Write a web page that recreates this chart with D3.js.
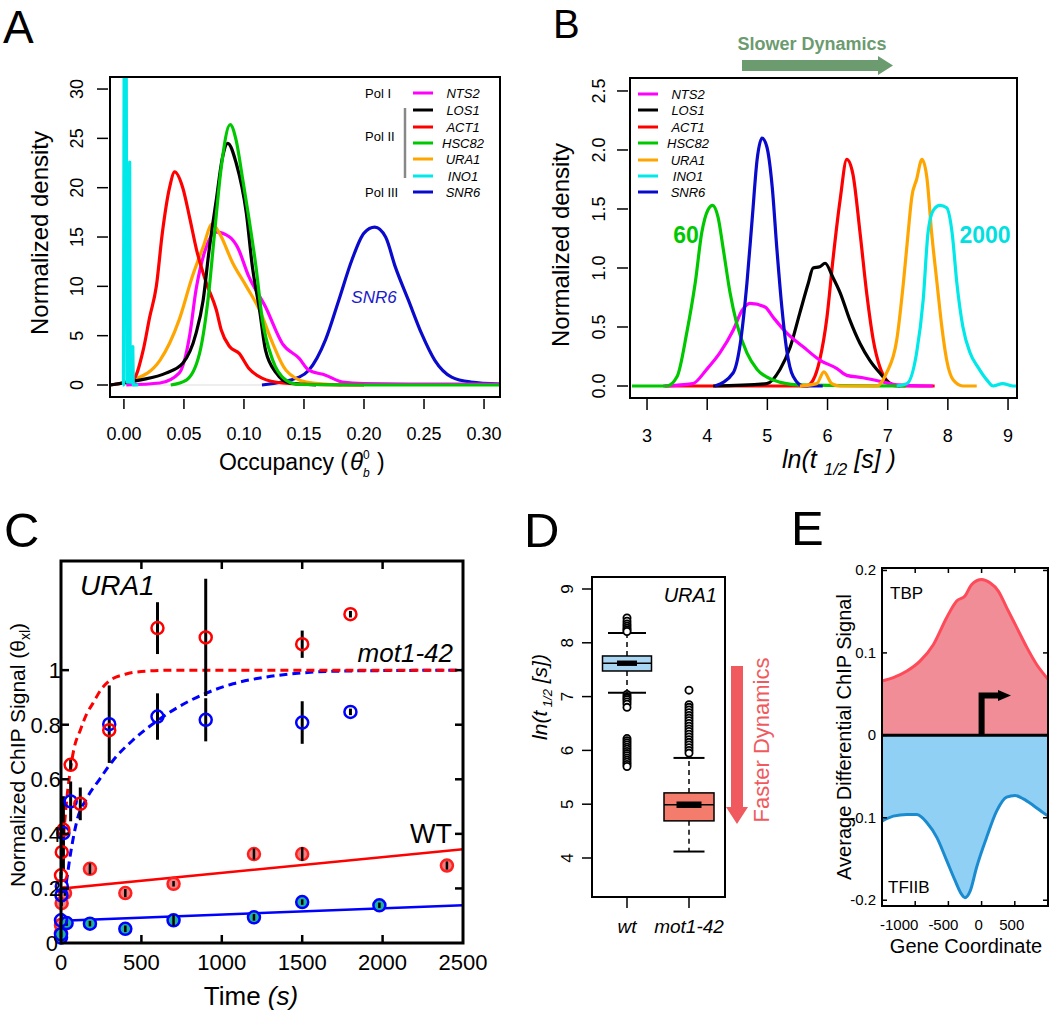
<!DOCTYPE html>
<html><head><meta charset="utf-8">
<script src="https://cdn.jsdelivr.net/npm/d3@7"></script>
<style>
body{margin:0;background:#fff}
svg{display:block}
text{font-family:"Liberation Sans",Arial,Helvetica,sans-serif}
</style>
</head><body>
<script>
// ---------------- DATA ----------------
// Panel A: density of occupancy (x = occupancy, y = normalized density)
const geneNames = ["NTS2","LOS1","ACT1","HSC82","URA1","INO1","SNR6"];
const geneColors = ["#ff00ff","#000000","#ff0000","#00c800","#ffa500","#00e8e8","#0a0acc"];
const occNTS2 = [[0.002,0],[0.03,0.2],[0.046,1.2],[0.055,5.2],[0.06,9.6],[0.067,13.4],[0.077,15.5],[0.088,15],[0.0945,14],[0.104,11],[0.118,7.9],[0.132,4.2],[0.146,2.7],[0.154,1.5],[0.168,1.0],[0.182,0.3],[0.2,0.15],[0.25,0.1],[0.313,0.1]];
const occLOS1 = [[-0.0116,0],[0.013,0.5],[0.035,1.2],[0.049,2.2],[0.06,5.2],[0.066,8.6],[0.071,13.7],[0.077,18.8],[0.082,23],[0.0865,24.5],[0.0935,22.5],[0.102,17.4],[0.107,12],[0.113,7.6],[0.118,3.5],[0.127,1.2],[0.138,0.2],[0.16,0]];
const occACT1 = [[-0.0116,0],[0.0075,0.5],[0.016,3.5],[0.0215,6.9],[0.027,10],[0.032,15.4],[0.038,20],[0.0423,21.6],[0.049,20],[0.0547,17],[0.0605,13.7],[0.0688,10.3],[0.077,7.6],[0.081,5.6],[0.088,3.9],[0.096,3.2],[0.104,1.7],[0.115,0.7],[0.132,0.2],[0.16,0.05],[0.2,0]];
const occHSC82 = [[0.039,0],[0.052,0.5],[0.063,3.2],[0.07,8.6],[0.0755,15.4],[0.081,22],[0.0885,26.4],[0.0935,24.8],[0.099,20.8],[0.104,17],[0.110,12],[0.115,6.9],[0.124,2.5],[0.135,0.5],[0.146,0.05],[0.2,0],[0.313,0]];
const occURA1 = [[-0.0116,0],[0.0075,0.5],[0.03,2.5],[0.046,6.6],[0.057,11],[0.066,14],[0.0735,16.3],[0.0795,15.4],[0.0905,12.4],[0.102,10],[0.113,7.6],[0.124,4.2],[0.135,1.5],[0.152,0.3],[0.1815,0]];
const occINO1 = [[-0.001,0],[-0.0004,0],[0.0003,40],[0.0018,40],[0.0025,0.3],[0.0042,0.3],[0.0048,22.6],[0.0052,0.3],[0.007,0.3],[0.0074,3.9],[0.0078,0],[0.012,0]];
const occSNR6 = [[0.115,0],[0.146,0.8],[0.154,1.5],[0.168,4.6],[0.179,8.6],[0.19,12.7],[0.2,15.4],[0.209,16],[0.218,15],[0.226,12],[0.237,8.6],[0.248,5.2],[0.259,2.5],[0.273,0.8],[0.289,0.3],[0.313,0.1]];
const occTicks = [0,0.05,0.10,0.15,0.20,0.25,0.30];
const densTicksA = [0,5,10,15,20,25,30];

// Panel B: density of ln(t1/2)
const lnNTS2 = [[3.27,0],[3.76,0.02],[3.99,0.14],[4.21,0.28],[4.43,0.47],[4.58,0.64],[4.71,0.7],[4.96,0.67],[5.1,0.58],[5.32,0.45],[5.6,0.33],[5.87,0.22],[6.15,0.15],[6.32,0.09],[6.59,0.07],[6.87,0.04],[7.15,0.01],[7.75,0]];
const lnLOS1 = [[4.1,0],[4.99,0.02],[5.21,0.14],[5.38,0.33],[5.54,0.62],[5.68,0.87],[5.76,1.0],[5.87,1.01],[5.96,1.04],[6.09,0.92],[6.21,0.79],[6.37,0.56],[6.54,0.36],[6.7,0.22],[6.87,0.11],[7.04,0.02],[7.2,0]];
const lnACT1 = [[3.3,0],[5.65,0],[5.76,0.05],[5.87,0.22],[5.99,0.58],[6.09,1.07],[6.21,1.58],[6.32,1.92],[6.42,1.8],[6.54,1.3],[6.65,0.79],[6.76,0.39],[6.87,0.16],[6.98,0.05],[7.15,0],[7.78,0]];
const lnHSC82 = [[2.75,0],[3.33,0],[3.5,0.08],[3.66,0.45],[3.8,0.87],[3.91,1.3],[4.01,1.49],[4.09,1.53],[4.18,1.43],[4.27,1.15],[4.38,0.79],[4.49,0.53],[4.66,0.28],[4.83,0.14],[5.1,0.05],[5.5,0.01],[7.3,0]];
const lnURA1 = [[5.54,0],[5.82,0.02],[5.94,0.12],[6.07,0.02],[6.2,0],[6.82,0],[6.98,0.11],[7.15,0.39],[7.26,0.87],[7.34,1.3],[7.4,1.6],[7.48,1.75],[7.57,1.92],[7.65,1.77],[7.73,1.3],[7.82,0.87],[7.9,0.5],[7.98,0.22],[8.09,0.05],[8.25,0],[8.48,0]];
const lnINO1 = [[7.15,0],[7.32,0.02],[7.48,0.28],[7.59,0.73],[7.67,1.3],[7.76,1.49],[7.87,1.53],[7.98,1.51],[8.07,1.3],[8.15,0.87],[8.25,0.5],[8.37,0.28],[8.5,0.16],[8.65,0.05],[8.75,0],[8.91,0.02],[9.08,0],[9.15,0]];
const lnSNR6 = [[4.13,0],[4.43,0.11],[4.55,0.36],[4.66,0.87],[4.75,1.43],[4.83,1.92],[4.91,2.1],[4.99,2.03],[5.08,1.69],[5.16,1.15],[5.24,0.67],[5.32,0.31],[5.43,0.08],[5.6,0],[5.92,0]];
const lnTicks = [3,4,5,6,7,8,9];
const densTicksB = [0,0.5,1,1.5,2,2.5];

// Panel C: ChIP time course at URA1
const motRedT = [0,5,15,60,120,300,600,900,1500,1800];
const motRedV = [0.248,0.333,0.415,0.653,0.51,0.78,1.154,1.12,1.095,1.205];
const motRedE = [0.012,0,0,0.02,0.06,0,0.095,0.215,0.05,0.012];
const motBlueT = [0,3,5,15,60,300,600,900,1500,1800];
const motBlueV = [0.083,0.175,0.208,0.403,0.519,0.802,0.83,0.818,0.808,0.847];
const motBlueE = [0,0,0,0.135,0.073,0.142,0.085,0.079,0.078,0.012];
const wtRedT = [0,0,4,25,180,400,700,1200,1500,2400];
const wtRedV = [0.037,0.066,0.146,0.183,0.272,0.183,0.217,0.326,0.326,0.284];
const wtRedE = [0.01,0.01,0.01,0.01,0.02,0.015,0.01,0.02,0.025,0.015];
const wtBlueT = [0,0,35,180,400,700,1200,1500,1980];
const wtBlueV = [0.02,0.032,0.073,0.071,0.052,0.083,0.094,0.15,0.138];
const wtBlueE = [0.01,0.01,0.01,0.01,0.012,0.02,0.012,0.01,0.01];
const fitMotRed = [[0,0.25],[20,0.42],[40,0.55],[60,0.64],[80,0.71],[120,0.78],[160,0.84],[200,0.88],[250,0.93],[300,0.96],[400,0.985],[500,0.995],[700,1.0],[2500,1.0]];
const fitMotBlue = [[0,0.08],[15,0.15],[35,0.23],[60,0.33],[100,0.45],[160,0.53],[240,0.6],[325,0.67],[450,0.745],[600,0.815],[760,0.875],[900,0.915],[1070,0.95],[1280,0.975],[1500,0.99],[1800,0.997],[2500,1.0]];
const fitWtRed = [[0,0.16],[12,0.2],[2500,0.344]];
const fitWtBlue = [[0,0.06],[10,0.082],[2500,0.138]];
const timeTicks = [0,500,1000,1500,2000,2500];
const signalTicks = [0,0.2,0.4,0.6,0.8,1];

// Panel D: boxplots of ln(t1/2)
const boxGroups = ["wt","mot1-42"];
const boxQ1 = [7.476,4.69];
const boxMed = [7.62,4.99];
const boxQ3 = [7.755,5.21];
const boxLo = [7.07,4.12];
const boxHi = [8.18,5.86];
const boxNotch = [0.05,0.06];
const outWt = [8.46,8.4,8.35,8.31,8.27,8.24,8.21,7.04,7.0,6.97,6.94,6.9,6.86,6.8,6.22,6.18,6.14,6.1,6.06,6.02,5.98,5.94,5.9,5.86,5.82,5.78,5.74,5.7];
const outMot = [7.12,6.85,6.8,6.75,6.7,6.65,6.6,6.55,6.5,6.45,6.4,6.35,6.3,6.25,6.2,6.15,6.1,6.05,6.0,5.95];
const lnTicksD = [4,5,6,7,8,9];

// Panel E: average differential ChIP signal
const coordTBP = [-1500,-1330,-1125,-928,-727,-525,-375,-250,-149,0,126,252,377,528,679,829,980,1000];
const valTBP = [0.066,0.07,0.078,0.09,0.11,0.143,0.163,0.169,0.183,0.189,0.185,0.175,0.155,0.131,0.107,0.086,0.07,0.068];
const coordTFIIB = [-1500,-1330,-1125,-974,-823,-673,-525,-400,-300,-250,-173,-75,75,226,377,503,628,779,930,1000];
const valTFIIB = [-0.104,-0.098,-0.096,-0.096,-0.106,-0.124,-0.152,-0.176,-0.193,-0.197,-0.189,-0.16,-0.124,-0.092,-0.075,-0.073,-0.077,-0.085,-0.094,-0.098];
const coordTicks = [-1000,-500,0,500];
const diffTicks = [0.2,0.1,0,-0.1,-0.2];

// ---------------- DRAW ----------------
const svg = d3.select("body").append("svg").attr("width",1050).attr("height",1011);
function T(g,x,y,s,o={}){
  const t=g.append("text").attr("x",x).attr("y",y).text(s)
    .attr("font-size",o.size||16).attr("fill",o.fill||"#000")
    .attr("text-anchor",o.anchor||"start")
    .attr("font-style",o.italic?"italic":"normal")
    .attr("font-weight",o.bold?"bold":"normal");
  if(o.rot!==undefined) t.attr("transform",`rotate(${o.rot},${x},${y})`);
  if(o.family) t.attr("font-family",o.family);
  return t;
}
function L(g,x1,y1,x2,y2,c,w,dash){
  const l=g.append("line").attr("x1",x1).attr("y1",y1).attr("x2",x2).attr("y2",y2).attr("stroke",c||"#000").attr("stroke-width",w||1.5);
  if(dash) l.attr("stroke-dasharray",dash);
  return l;
}
const defs = svg.append("defs");
function clip(id,x,y,w,h){defs.append("clipPath").attr("id",id).append("rect").attr("x",x).attr("y",y).attr("width",w).attr("height",h);}

// Panel letters
T(svg,3,43,"A",{size:46});
T(svg,553,38,"B",{size:40});
T(svg,4,547,"C",{size:49});
T(svg,524,547,"D",{size:49});
T(svg,791,545,"E",{size:49});

// ===== Panel A =====
(function(){
  const g=svg.append("g");
  const x=d3.scaleLinear().domain([-0.0116,0.3133]).range([110,500]);
  const y=d3.scaleLinear().domain([-1.216,31.22]).range([397,77]);
  clip("clipA",110,77,390,320);
  L(g,x(0),y(0),x(0.3),y(0),"#dddddd",1);
  const line=d3.line().x(d=>x(d[0])).y(d=>y(d[1])).curve(d3.curveMonotoneX);
  const lineLin=d3.line().x(d=>x(d[0])).y(d=>y(d[1]));
  const series=[occSNR6,occNTS2,occURA1,occACT1,occLOS1,occHSC82,occINO1];
  const cols=[geneColors[6],geneColors[0],geneColors[4],geneColors[2],geneColors[1],geneColors[3],geneColors[5]];
  const pg=g.append("g").attr("clip-path","url(#clipA)");
  series.forEach((s,i)=>{
    pg.append("path").attr("d",(s===occINO1?lineLin:line)(s)).attr("fill","none")
      .attr("stroke",cols[i]).attr("stroke-width",3.2).attr("stroke-linejoin","round");
  });
  g.append("rect").attr("x",110).attr("y",77).attr("width",390).attr("height",320).attr("fill","none").attr("stroke","#000").attr("stroke-width",2);
  occTicks.forEach(v=>{L(g,x(v),399,x(v),409,"#000",1.5);T(g,x(v),440,d3.format(".2f")(v),{size:18,anchor:"middle"});});
  densTicksA.forEach(v=>{L(g,97,y(v),108,y(v),"#000",1.5);T(g,83,y(v),String(v),{size:18,anchor:"middle",rot:-90});});
  T(g,48,233,"Normalized density",{size:24,anchor:"middle",rot:-90});
  T(g,348,470,"Occupancy (",{size:23,anchor:"end"});
  T(g,350,470,"θ",{size:24,italic:true,family:"Liberation Serif, DejaVu Serif, serif"});
  T(g,363,459,"0",{size:12,family:"Liberation Serif, DejaVu Serif, serif"});
  T(g,363,477,"b",{size:12,italic:true,family:"Liberation Serif, DejaVu Serif, serif"});
  T(g,377,470,")",{size:23});
  // legend
  const rows=[93,110,127,143,159,176,192];
  geneNames.forEach((n,i)=>{
    L(g,413,rows[i],433,rows[i],geneColors[i],3);
    T(g,463,rows[i]+5,n,{size:13,italic:true,anchor:"middle"});
  });
  T(g,365,rows[0]+5,"Pol I",{size:13});
  T(g,365,rows[2]+14,"Pol II",{size:13});
  T(g,365,rows[6]+5,"Pol III",{size:13});
  L(g,405,108,405,178,"#888888",2.5);
  T(g,374,303,"SNR6",{size:17,italic:true,anchor:"middle",fill:"#1a1acc"});
})();

// ===== Panel B =====
(function(){
  const g=svg.append("g");
  const x=d3.scaleLinear().domain([2.717,9.149]).range([630,1017]);
  const y=d3.scaleLinear().domain([-0.1017,2.61]).range([398,78]);
  clip("clipB",630,78,387,320);
  const line=d3.line().x(d=>x(d[0])).y(d=>y(d[1])).curve(d3.curveMonotoneX);
  const series=[lnHSC82,lnNTS2,lnSNR6,lnLOS1,lnACT1,lnURA1,lnINO1];
  const cols=[geneColors[3],geneColors[0],geneColors[6],geneColors[1],geneColors[2],geneColors[4],geneColors[5]];
  const order=[4,3,1,0,2,5,6];
  const pg=g.append("g").attr("clip-path","url(#clipB)");
  order.forEach(i=>{
    pg.append("path").attr("d",line(series[i])).attr("fill","none")
      .attr("stroke",cols[i]).attr("stroke-width",3.2).attr("stroke-linejoin","round");
  });
  g.append("rect").attr("x",630).attr("y",78).attr("width",387).attr("height",320).attr("fill","none").attr("stroke","#000").attr("stroke-width",2);
  lnTicks.forEach(v=>{L(g,x(v),399,x(v),410,"#000",1.5);T(g,x(v),442,String(v),{size:18,anchor:"middle"});});
  densTicksB.forEach(v=>{L(g,617,y(v),628,y(v),"#000",1.5);T(g,605,y(v),d3.format(".1f")(v),{size:18,anchor:"middle",rot:-90});});
  T(g,569,245,"Normalized density",{size:24,anchor:"middle",rot:-90});
  const xt=T(g,782,468,"",{size:25,italic:true});
  xt.append("tspan").text("ln(t ");
  xt.append("tspan").attr("font-size",17).attr("dy",7).text("1/2");
  xt.append("tspan").attr("dy",-7).text("  [s] )");
  // legend
  const rows=[94,110,127,143,160,176,192];
  geneNames.forEach((n,i)=>{
    L(g,638,rows[i],658,rows[i],geneColors[i],3);
    T(g,688,rows[i]+5,n,{size:13,italic:true,anchor:"middle"});
  });
  T(g,686,243,"60",{size:23,bold:true,anchor:"middle",fill:"#00c800"});
  T(g,985,243,"2000",{size:23,bold:true,anchor:"middle",fill:"#00e0e0"});
  T(g,812,50,"Slower Dynamics",{size:18,bold:true,anchor:"middle",fill:"#6b9b6f"});
  g.append("path").attr("d","M742,60 L878,60 L878,56 L893,65.5 L878,75 L878,71 L742,71 Z").attr("fill","#6b9b6f");
})();

// ===== Panel C =====
(function(){
  const g=svg.append("g");
  const x=d3.scaleLinear().domain([0,2500]).range([61,463]);
  const y=d3.scaleLinear().domain([0,1.4]).range([943,561]);
  clip("clipC",61,561,402,382);
  const pg=g.append("g").attr("clip-path","url(#clipC)");
  const line=d3.line().x(d=>x(d[0])).y(d=>y(d[1])).curve(d3.curveMonotoneX);
  const lineLin=d3.line().x(d=>x(d[0])).y(d=>y(d[1]));
  pg.append("path").attr("d",lineLin(fitWtRed)).attr("fill","none").attr("stroke","#ff0000").attr("stroke-width",2.5);
  pg.append("path").attr("d",lineLin(fitWtBlue)).attr("fill","none").attr("stroke","#0000ff").attr("stroke-width",2.5);
  pg.append("path").attr("d",line(fitMotBlue)).attr("fill","none").attr("stroke","#0000ff").attr("stroke-width",3).attr("stroke-dasharray","8,5");
  pg.append("path").attr("d",line(fitMotRed)).attr("fill","none").attr("stroke","#ff0000").attr("stroke-width",3).attr("stroke-dasharray","8,5");
  function filled(ts,vs,es,stroke,fill){
    ts.forEach((t,i)=>{
      g.append("circle").attr("cx",x(t)).attr("cy",y(vs[i])).attr("r",6).attr("fill",fill).attr("stroke",stroke).attr("stroke-width",2.5);
      L(g,x(t),y(vs[i]+es[i]),x(t),y(vs[i]-es[i]),"#000",2.5);
    });
  }
  filled(wtRedT,wtRedV,wtRedE,"#ff2020","#f08080");
  filled(wtBlueT,wtBlueV,wtBlueE,"#0000ff","#20b0a0");
  function open(ts,vs,es,stroke){
    ts.forEach((t,i)=>{ if(es[i]>0) L(g,x(t),y(vs[i]+es[i]),x(t),y(vs[i]-es[i]),"#000",3); });
    ts.forEach((t,i)=>{
      g.append("circle").attr("cx",x(t)).attr("cy",y(vs[i])).attr("r",6).attr("fill","none").attr("stroke",stroke).attr("stroke-width",2.5);
    });
  }
  open(motBlueT,motBlueV,motBlueE,"#0000ff");
  open(motRedT,motRedV,motRedE,"#ff0000");
  g.append("rect").attr("x",61).attr("y",561).attr("width",402).attr("height",382).attr("fill","none").attr("stroke","#000").attr("stroke-width",3);
  timeTicks.forEach(v=>{
    if(v>0&&v<2500){L(g,x(v),943,x(v),935,"#000",2.5);L(g,x(v),561,x(v),569,"#000",2.5);}
    T(g,x(v),970,String(v),{size:22,anchor:"middle"});
  });
  signalTicks.forEach(v=>{
    if(v>0){L(g,61,y(v),69,y(v),"#000",2.5);L(g,463,y(v),455,y(v),"#000",2.5);}
    T(g,v===0?58:61,y(v)+8,String(v),{size:22,anchor:"end"});
  });
  const xt=T(g,251,1005,"",{size:26,anchor:"middle"});
  xt.append("tspan").text("Time ");
  xt.append("tspan").attr("font-style","italic").text("(s)");
  const yt=T(g,25,755,"",{size:21,anchor:"middle",rot:-90});
  yt.append("tspan").text("Normalized ChIP Signal (θ");
  yt.append("tspan").attr("font-size",14).attr("dy",5).text("xl");
  yt.append("tspan").attr("dy",-5).text(")");
  T(g,80,595,"URA1",{size:28,italic:true});
  T(g,453,662,"mot1-42",{size:26,italic:true,anchor:"end"});
  T(g,452,843,"WT",{size:27,anchor:"end"});
})();

// ===== Panel D =====
(function(){
  const g=svg.append("g");
  const y=d3.scaleLinear().domain([3.275,9.223]).range([897,577]);
  const x=d3.scalePoint().domain(boxGroups).range([627,689]);
  const fills=["#a9d6f2","#f47c6c"];
  const halfW=[24.5,25], capW=[19,15.5], notchW=[10,12.5];
  boxGroups.forEach((grp,i)=>{
    const cx=x(grp);
    L(g,cx,y(boxQ3[i]),cx,y(boxHi[i]),"#000",1.5,"5,4");
    L(g,cx,y(boxQ1[i]),cx,y(boxLo[i]),"#000",1.5,"5,4");
    L(g,cx-capW[i],y(boxHi[i]),cx+capW[i],y(boxHi[i]),"#000",2);
    L(g,cx-capW[i],y(boxLo[i]),cx+capW[i],y(boxLo[i]),"#000",2);
    g.append("rect").attr("x",cx-halfW[i]).attr("y",y(boxQ3[i])).attr("width",2*halfW[i]).attr("height",y(boxQ1[i])-y(boxQ3[i]))
      .attr("fill",fills[i]).attr("stroke","#000").attr("stroke-width",1.5);
    L(g,cx-halfW[i],y(boxMed[i]),cx+halfW[i],y(boxMed[i]),"#000",1.5);
    g.append("rect").attr("x",cx-notchW[i]).attr("y",y(boxMed[i]+boxNotch[i])).attr("width",2*notchW[i]).attr("height",y(boxMed[i]-boxNotch[i])-y(boxMed[i]+boxNotch[i])).attr("fill","#000");
    const outs=i===0?outWt:outMot;
    outs.forEach(v=>g.append("circle").attr("cx",cx).attr("cy",y(v)).attr("r",3.6).attr("fill","#fff").attr("stroke","#000").attr("stroke-width",1.8));
    L(g,cx,898,cx,908,"#000",1.5);
    T(g,cx,933,grp,{size:19,italic:true,anchor:"middle"});
  });
  g.append("rect").attr("x",592).attr("y",577).attr("width",133).attr("height",320).attr("fill","none").attr("stroke","#000").attr("stroke-width",2);
  lnTicksD.forEach(v=>{L(g,582,y(v),591,y(v),"#000",1.5);T(g,573,y(v),String(v),{size:17,anchor:"middle",rot:-90});});
  const yt=T(g,547,697,"",{size:21,italic:true,anchor:"middle",rot:-90});
  yt.append("tspan").text("ln(t");
  yt.append("tspan").attr("font-size",13).attr("dy",5).text(" 1/2");
  yt.append("tspan").attr("dy",-5).text("  [s])");
  T(g,717,602,"URA1",{size:20,italic:true,anchor:"end"});
  g.append("path").attr("d","M731,666 L743,666 L743,807 L748,807 L737,824 L726,807 L731,807 Z").attr("fill","#f05a5e");
  T(g,769,740,"Faster Dynamics",{size:22,anchor:"middle",rot:-90,fill:"#f05a5e"});
})();

// ===== Panel E =====
(function(){
  const g=svg.append("g");
  const x=d3.scaleLinear().domain([-1500,1000]).range([882,1048]);
  const y=d3.scaleLinear().domain([-0.207,0.203]).range([906,568]);
  clip("clipE",882,568,166,338);
  const pg=g.append("g").attr("clip-path","url(#clipE)");
  const tbp=coordTBP.map((c,i)=>[c,valTBP[i]]);
  const tf=coordTFIIB.map((c,i)=>[c,valTFIIB[i]]);
  const area=d3.area().x(d=>x(d[0])).y0(y(0)).y1(d=>y(d[1])).curve(d3.curveMonotoneX);
  const line=d3.line().x(d=>x(d[0])).y(d=>y(d[1])).curve(d3.curveMonotoneX);
  pg.append("path").attr("d",area(tbp)).attr("fill","#f08d97");
  pg.append("path").attr("d",area(tf)).attr("fill","#8fd0f4");
  pg.append("path").attr("d",line(tbp)).attr("fill","none").attr("stroke","#ff4a5a").attr("stroke-width",3);
  pg.append("path").attr("d",line(tf)).attr("fill","none").attr("stroke","#1b8bd0").attr("stroke-width",3);
  L(pg,882,y(0),1048,y(0),"#000",3);
  g.append("path").attr("d",`M${x(0)},${y(0)} L${x(0)},695.5 L1000,695.5`).attr("fill","none").attr("stroke","#000").attr("stroke-width",6);
  g.append("path").attr("d","M998,690 L1011,695.5 L998,701 Z").attr("fill","#000");
  g.append("rect").attr("x",882).attr("y",568).attr("width",166).attr("height",338).attr("fill","none").attr("stroke","#000").attr("stroke-width",2);
  const labelShift=[-16,-5,-3,-3];
  coordTicks.forEach((v,i)=>{
    L(g,x(v),568,x(v),573,"#000",1.5);L(g,x(v),906,x(v),901,"#000",1.5);
    T(g,x(v)+labelShift[i],930,String(v),{size:15,anchor:"middle"});
  });
  diffTicks.forEach(v=>{
    L(g,882,y(v),887,y(v),"#000",1.5);L(g,1048,y(v),1043,y(v),"#000",1.5);
    T(g,876,y(v)+5,String(v),{size:15,anchor:"end"});
  });
  T(g,851,737,"Average Differential ChIP Signal",{size:20,anchor:"middle",rot:-90});
  T(g,966,953,"Gene Coordinate",{size:20,anchor:"middle"});
  T(g,890,599,"TBP",{size:17});
  T(g,888,893,"TFIIB",{size:17});
})();
</script>
</body></html>
